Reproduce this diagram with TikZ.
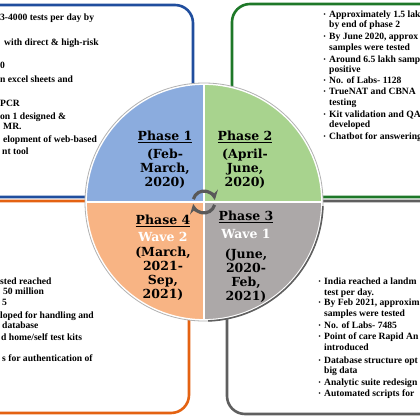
\documentclass[tikz,border=0pt]{standalone}
\usepackage{fontspec}
\setmainfont{Liberation Serif}
\newfontfamily\phasefont{DejaVu Serif}
\usepackage{xcolor}
\definecolor{boxblue}{RGB}{32,78,158}
\definecolor{boxgreen}{RGB}{30,120,40}
\definecolor{boxorange}{RGB}{228,98,18}
\definecolor{boxgray}{RGB}{95,95,95}
\definecolor{qblue}{RGB}{139,172,222}
\definecolor{qgreen}{RGB}{168,211,142}
\definecolor{qorange}{RGB}{248,180,132}
\definecolor{qgray}{RGB}{172,168,168}
\newcommand{\itm}{\llap{\raisebox{1pt}{\fontsize{6}{6}\selectfont\textbullet}\hspace{3.5pt}}}

\begin{document}
\begin{tikzpicture}[x=1pt,
					y=-1pt,
					line join=round,
					outer box/.style={rounded corners=18pt, line width=2.6pt},
					quadrant/.style={draw=white, line width=1.8pt},
					cycle arrow/.style={draw=gray!70!black, line width=3.2pt, -stealth},
					phase node/.style={font=\phasefont\bfseries\fontsize{12.5}{14}\selectfont, align=center, inner sep=0pt, anchor=north},
					box text/.style={font=\bfseries\fontsize{9.6}{10.5}\selectfont, inner sep=0pt, anchor=mid west}]

  \useasboundingbox (0,0) rectangle (420,420);
  \fill[white] (0,0) rectangle (420,420);
  \clip (0,0) rectangle (420,420);

  % boxes behind the wheel
  \draw[outer box, draw=boxblue] (-40,5) rectangle (193,197);
  \draw[outer box, draw=boxgreen] (232,4) rectangle (460,197);
  \draw[outer box, draw=boxorange] (-40,201) rectangle (189,413);
  \draw[outer box, draw=boxgray] (227,201) rectangle (460,414);

  % the wheel
  \coordinate (O) at (204,202);
  \filldraw[quadrant, fill=qblue] (O) -- ++(180:118) arc[start angle=180, end angle=270, radius=118] -- cycle;
  \filldraw[quadrant, fill=qgreen] (O) -- ++(270:118) arc[start angle=270, end angle=360, radius=118] -- cycle;
  \filldraw[quadrant, fill=qgray] (O) -- ++(0:118) arc[start angle=0, end angle=90, radius=118] -- cycle;
  \filldraw[quadrant, fill=qorange] (O) -- ++(90:118) arc[start angle=90, end angle=180, radius=118] -- cycle;
  \draw[gray!60, line width=0.8pt] (O) circle[radius=119];
  \draw[boxgray, line width=1.6pt] (O) ++(2:119) arc[start angle=2, end angle=88, radius=119];

  % cycle in the middle
  \draw[cycle arrow] (O) ++(-165:11) arc[start angle=-165, end angle=-10, radius=11];
  \draw[cycle arrow] (O) ++(15:11) arc[start angle=15, end angle=170, radius=11];

  \node[phase node] (P1) at (165,131) {\underline{Phase 1}\\[4pt](Feb-\\March,\\2020)};
  \node[phase node] (P2) at (245,131) {\underline{Phase 2}\\[4pt](April-\\June,\\2020)};
  \node[phase node] (P3) at (246,211) {\underline{Phase 3}\\[4pt]\textcolor{white}{Wave 1}\\[6pt](June,\\2020-\\Feb,\\2021)};
  \node[phase node] (P4) at (163,215) {\underline{Phase 4}\\[3pt]\textcolor{white}{Wave 2}\\[1pt](March,\\2021-\\Sep,\\2021)};

  % box texts
  \foreach \x/\y/\t [count=\i] in {0/18/{3-4000 tests per day by}, 4/43/{with direct \& high-risk},
      0/66/{0}, 0/80/{n excel sheets and}, 0/104/{PCR}, 0/117/{on 1 designed \&}, 3/127/{MR.},
      3/140/{elopment of web-based}, 2/152/{nt tool}}
    \node[box text] (b\i) at (\x,\y) {\t};

  \foreach \y/\t [count=\i] in {15/{\itm Approximately 1.5 lak}, 25/{by end of phase 2},
      37/{\itm By June 2020, approx}, 48/{samples were tested}, 60/{\itm Around 6.5 lakh samp},
      70/{positive}, 81/{\itm No. of Labs- 1128}, 92/{\itm TrueNAT and CBNA}, 103/{testing},
      115/{\itm Kit validation and QA}, 125/{developed}, 137/{\itm Chatbot for answering}}
    \node[box text] (g\i) at (329,\y) {\t};

  \foreach \x/\y/\t [count=\i] in {0/282/{sted reached}, 3/292/{50 million}, 2/303/{5},
      0/316/{loped for handling and}, 2/326/{database}, 1/338/{d home/self test kits},
      2/359/{s for authentication of}}
    \node[box text] (o\i) at (\x,\y) {\t};

  \foreach \y/\t [count=\i] in {282/{\itm India reached a landm}, 293/{test per day.},
      303/{\itm By Feb 2021, approxim}, 314/{samples were tested}, 326/{\itm No. of Labs- 7485},
      337/{\itm Point of care Rapid An}, 348/{introduced}, 361/{\itm Database structure opt},
      371/{big data}, 383/{\itm Analytic suite redesign}, 394/{\itm Automated scripts for}}
    \node[box text] (r\i) at (324,\y) {\t};
\end{tikzpicture}
\end{document}
